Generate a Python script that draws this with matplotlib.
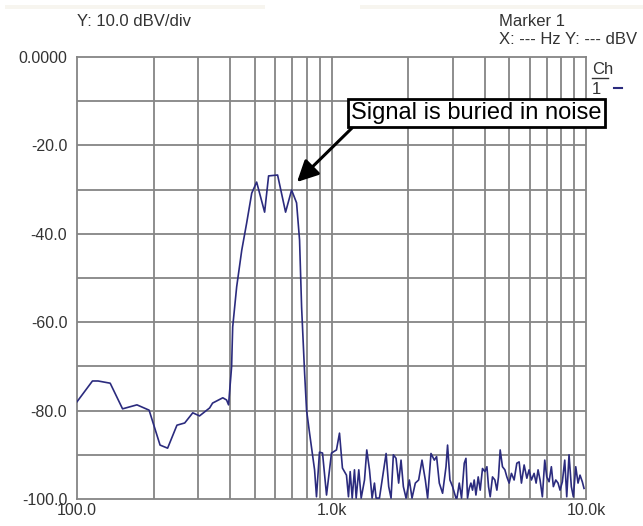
import matplotlib
matplotlib.use("Agg")
import matplotlib.pyplot as plt
from matplotlib.lines import Line2D
from matplotlib.patches import Rectangle

plt.rcParams['font.family'] = ['Liberation Sans', 'DejaVu Sans']

# spectrum (Hz, dBV)
freq_hz = [100, 115, 121, 135, 151, 172, 192, 212, 227, 247, 265, 285, 303, 332,
           341, 374, 387, 394, 401, 405, 409, 424, 444, 464, 486, 508, 546, 566,
           614, 660, 697, 729, 749, 763, 784, 798, 820, 858, 873, 897, 922, 956,
           1000, 1046, 1075, 1104, 1145, 1166,
           1184, 1206, 1231, 1250, 1280, 1308, 1348, 1376, 1410, 1444, 1475, 1497,
           1543, 1581, 1639, 1678, 1714, 1750, 1793, 1836, 1876, 1916, 1963, 2022,
           2072, 2135, 2200, 2268, 2337, 2386, 2460, 2535, 2588, 2652, 2732, 2818,
           2858, 2920, 2990, 3083,
           3111, 3177, 3243, 3324, 3375, 3424, 3477, 3530, 3582, 3637, 3694, 3771,
           3840, 3920, 4006, 4080, 4140, 4203, 4291, 4385, 4465, 4530, 4600, 4697,
           4800, 4887, 4989, 5094, 5219, 5348, 5461, 5576, 5714, 5855, 5976, 6102,
           6253, 6367, 6481, 6599, 6738, 6886, 7012, 7160, 7310, 7443, 7607, 7766,
           7907, 8074, 8251, 8401, 8577, 8758, 8918, 9114, 9304, 9473, 9672, 9822]
level_dbv = [-78.0, -73.3, -73.3, -73.8, -79.6, -78.7, -79.9, -87.8, -88.5, -83.3, -82.8, -80.5, -81.2, -79.4,
             -78.3, -77.1, -77.6, -78.7, -73.1, -70.1, -61.1, -52.0, -43.7, -37.6, -30.8, -28.3, -35.1, -26.9,
             -26.7, -35.1, -30.1, -33.0, -41.4, -56.6, -71.5, -79.9, -85.1, -93.4, -99.5, -89.4, -89.6, -99.1,
             -89.6, -88.9, -85.1, -93.0, -94.6, -99.5,
             -93.8, -99.8, -93.4, -99.8, -93.4, -99.8, -95.7, -88.9, -93.4, -99.8, -96.4, -99.8,
             -99.8, -95.7, -89.7, -97.2, -99.8, -90.0, -90.8, -96.4, -91.2, -97.2, -99.8, -95.7,
             -99.8, -96.4, -95.7, -91.2, -95.7, -99.8, -89.7, -91.2, -90.4, -96.4, -98.7, -92.7,
             -87.8, -95.7, -97.2, -99.8,
             -99.8, -96.4, -99.8, -91.9, -90.8, -99.8, -97.6, -96.4, -98.0, -95.7, -99.1, -95.0,
             -98.0, -93.1, -93.8, -92.7, -97.2, -99.5, -95.0, -95.7, -98.0, -95.0, -88.9, -92.7,
             -93.4, -95.0, -96.4, -94.2, -95.7, -91.9, -91.6, -96.4, -92.3, -95.3, -93.4, -95.7,
             -94.2, -96.4, -93.4, -95.7, -99.5, -91.2, -95.0, -96.1, -92.7, -97.2, -95.7, -96.4,
             -98.0, -96.1, -91.2, -99.5, -90.0, -97.2, -99.5, -92.7, -96.4, -94.6, -96.1, -97.6]

y_ticks = [0, -20, -40, -60, -80, -100]
y_tick_labels = ['0.0000', '-20.0', '-40.0', '-60.0', '-80.0', '-100.0']
x_ticks = [100, 1000, 10000]
x_tick_labels = ['100.0', '1.0k', '10.0k']
x_grid = [200, 300, 400, 500, 600, 700, 800, 900, 1000,
          2000, 3000, 4000, 5000, 6000, 7000, 8000, 9000]
y_grid = [-10, -20, -30, -40, -50, -60, -70, -80, -90]

grid_col = '#858585'
text_col = '#333333'
trace_col = '#2b2b7e'
W, H = 643, 526

fig = plt.figure(figsize=(6.43, 5.26), dpi=100)
ax = fig.add_axes([77 / W, 1 - 499 / H, 509 / W, 442 / H])

ax.set_xscale('log')
ax.set_xlim(100, 10000)
ax.set_ylim(-100, 0)

for xv in x_grid:
    ax.axvline(xv, color=grid_col, lw=1.3, zorder=1)
for yv in y_grid:
    ax.axhline(yv, color=grid_col, lw=1.3, zorder=1)
for s in ax.spines.values():
    s.set_color(grid_col)
    s.set_linewidth(1.3)

ax.plot(freq_hz, level_dbv, color=trace_col, lw=1.2, zorder=3)

ax.set_yticks(y_ticks)
ax.set_yticklabels(y_tick_labels)
ax.set_xticks(x_ticks)
ax.set_xticklabels(x_tick_labels)
ax.xaxis.set_minor_locator(matplotlib.ticker.NullLocator())
ax.tick_params(length=0, labelsize=11.5, labelcolor=text_col)
ax.tick_params(axis='y', pad=7)
ax.tick_params(axis='x', pad=3)

# faint toolbar strip at the very top
fig.add_artist(Rectangle((5 / W, 1 - 9 / H), 260 / W, 4 / H, transform=fig.transFigure,
                         fc='#f7f5ef', ec='none'))
fig.add_artist(Rectangle((360 / W, 1 - 9 / H), 283 / W, 4 / H, transform=fig.transFigure,
                         fc='#f7f5ef', ec='none'))

# header texts
fig.text(77 / W, 1 - 22 / H, 'Y: 10.0 dBV/div', fontsize=12, color=text_col, va='center')
fig.text(499 / W, 1 - 21 / H, 'Marker 1', fontsize=12, color=text_col, va='center')
fig.text(499 / W, 1 - 40 / H, 'X: --- Hz Y: --- dBV', fontsize=12, color=text_col, va='center')

# channel legend
fig.text(592 / W, 1 - 69 / H, 'Ch', fontsize=12, color=text_col, va='center')
fig.add_artist(Line2D([592 / W, 608 / W], [1 - 78 / H, 1 - 78 / H],
                      transform=fig.transFigure, color=text_col, lw=1))
fig.text(592 / W, 1 - 89 / H, '1', fontsize=12, color=text_col, va='center')
fig.add_artist(Line2D([614 / W, 622 / W], [1 - 88 / H, 1 - 88 / H],
                      transform=fig.transFigure, color=trace_col, lw=1.5))

# callout
fig.text(476.5 / W, 1 - 113 / H, 'Signal is buried in noise', fontsize=17,
         color='black', ha='center', va='center',
         bbox=dict(boxstyle='square,pad=0.14', fc='white', ec='black', lw=2))
ax.annotate('', xy=(297, H - 182), xycoords='figure pixels',
            xytext=(352, H - 128), textcoords='figure pixels',
            arrowprops=dict(arrowstyle='-|>', mutation_scale=32, lw=2.2,
                            color='black', shrinkA=0, shrinkB=0),
            annotation_clip=False)

fig.savefig('out.png', dpi=100)
